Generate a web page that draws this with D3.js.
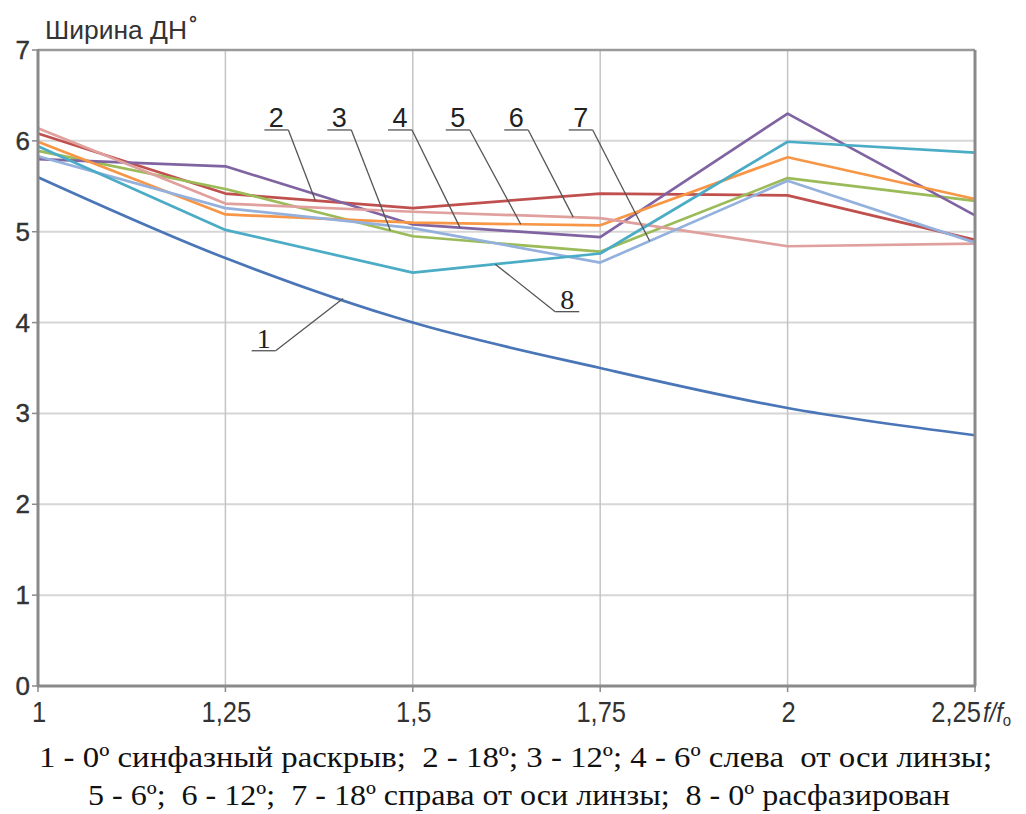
<!DOCTYPE html>
<html>
<head>
<meta charset="utf-8">
<script src="https://cdn.jsdelivr.net/npm/d3@7"></script>
<style>
  body { margin: 0; background: #fff; }
  svg { display: block; }
  .pre { white-space: pre; }
</style>
</head>
<body>
<svg id="chart" width="1026" height="814"></svg>
<script>
// Relative frequency f/f0 and tick labels
const freq = [1, 1.25, 1.5, 1.75, 2, 2.25];
const freqLabels = ["1", "1,25", "1,5", "1,75", "2", "2,25"];
const widthTicks = [0, 1, 2, 3, 4, 5, 6, 7];

// Beam width, degrees, per feed position
const w1 = [5.60, 4.71, 4.00, 3.50, 3.06, 2.76]; // 0° in-phase aperture
const w2 = [6.08, 5.42, 5.26, 5.42, 5.40, 4.91]; // 18° left
const w3 = [5.89, 5.47, 4.95, 4.78, 5.59, 5.34]; // 12° left
const w4 = [5.80, 5.72, 5.08, 4.94, 6.30, 5.18]; // 6° left
const w5 = [5.99, 5.19, 5.10, 5.07, 5.82, 5.36]; // 6° right
const w6 = [6.14, 5.31, 5.22, 5.15, 4.84, 4.87]; // 12° right
const w7 = [5.83, 5.26, 5.04, 4.66, 5.56, 4.88]; // 18° right
const w8 = [5.94, 5.02, 4.55, 4.76, 5.99, 5.87]; // 0° dephased

const seriesValues = [w1, w2, w3, w4, w5, w6, w7, w8];
const seriesColors = ["#4a76b8", "#c0504d", "#9bbb59", "#8064a2",
                      "#f79646", "#e0a09e", "#93b1dc", "#4bacc6"];
const seriesSmooth = [true, false, false, false, false, false, false, false];

// Numbered callouts: label, series index, x where the leader meets the line,
// underline centre (data units) and which underline end the leader leaves from
const callouts = [
  { label: "1", s: 0, at: 1.407, ux: 1.301, uy: 3.69, end: "right", serif: true },
  { label: "2", s: 1, at: 1.370, ux: 1.318, uy: 6.12, end: "right", serif: false },
  { label: "3", s: 2, at: 1.470, ux: 1.402, uy: 6.12, end: "right", serif: false },
  { label: "4", s: 3, at: 1.563, ux: 1.483, uy: 6.12, end: "right", serif: false },
  { label: "5", s: 4, at: 1.644, ux: 1.560, uy: 6.12, end: "right", serif: false },
  { label: "6", s: 5, at: 1.714, ux: 1.638, uy: 6.12, end: "right", serif: false },
  { label: "7", s: 6, at: 1.816, ux: 1.724, uy: 6.12, end: "right", serif: false },
  { label: "8", s: 7, at: 1.610, ux: 1.706, uy: 4.12, end: "left",  serif: true }
];

const captionLines = [
  "1 - 0º синфазный раскрыв;  2 - 18º; 3 - 12º; 4 - 6º слева  от оси линзы;",
  "5 - 6º;  6 - 12º;  7 - 18º справа от оси линзы;  8 - 0º расфазирован"
];

const svg = d3.select("#chart");
const x = d3.scaleLinear().domain([1, 2.25]).range([38, 975]);
const y = d3.scaleLinear().domain([0, 7]).range([686, 50]);

const sans = "'Liberation Sans', Arial, sans-serif";
const serif = "'Liberation Serif', 'Times New Roman', serif";

// Grid
svg.append("g").selectAll("line").data(widthTicks.slice(1, -1)).join("line")
  .attr("x1", x(1)).attr("x2", x(2.25))
  .attr("y1", d => y(d)).attr("y2", d => y(d))
  .attr("stroke", "#d6d6d6").attr("stroke-width", 2);
svg.append("g").selectAll("line").data(freq.slice(1, -1)).join("line")
  .attr("x1", d => x(d)).attr("x2", d => x(d))
  .attr("y1", y(0)).attr("y2", y(7))
  .attr("stroke", "#c4c4c4").attr("stroke-width", 1.5);

// Series lines
seriesValues.forEach((vals, i) => {
  const line = d3.line()
    .x((d, j) => x(freq[j]))
    .y(d => y(d))
    .curve(seriesSmooth[i] ? d3.curveMonotoneX : d3.curveLinear);
  svg.append("path").datum(vals)
    .attr("d", line)
    .attr("fill", "none")
    .attr("stroke", seriesColors[i])
    .attr("stroke-width", 2.7)
    .attr("stroke-linejoin", "round");
});

// Frame
svg.append("line").attr("x1", x(1)).attr("x2", x(2.25)).attr("y1", y(7)).attr("y2", y(7))
  .attr("stroke", "#9a9a9a").attr("stroke-width", 2.5);
svg.append("line").attr("x1", x(2.25)).attr("x2", x(2.25)).attr("y1", y(7)).attr("y2", y(0))
  .attr("stroke", "#8a8a8a").attr("stroke-width", 3);
svg.append("line").attr("x1", x(1)).attr("x2", x(1)).attr("y1", y(7) - 1).attr("y2", y(0) + 1)
  .attr("stroke", "#8a8a8a").attr("stroke-width", 3);
svg.append("line").attr("x1", x(1) - 1).attr("x2", x(2.25) + 1).attr("y1", y(0)).attr("y2", y(0))
  .attr("stroke", "#8a8a8a").attr("stroke-width", 3);

// Y axis ticks and labels
const yAxis = svg.append("g");
yAxis.selectAll("line").data(widthTicks).join("line")
  .attr("x1", x(1) - 6).attr("x2", x(1))
  .attr("y1", d => y(d)).attr("y2", d => y(d))
  .attr("stroke", "#8a8a8a").attr("stroke-width", 1.5);
yAxis.selectAll("text").data(widthTicks).join("text")
  .attr("x", x(1) - 8).attr("y", d => y(d) + 9)
  .attr("text-anchor", "end")
  .attr("font-family", sans).attr("font-size", 26).attr("fill", "#333")
  .attr("stroke", "#333").attr("stroke-width", 0.4)
  .text(d => d);

// X axis ticks and labels (condensed)
const xAxis = svg.append("g");
xAxis.selectAll("line").data(freq).join("line")
  .attr("x1", d => x(d)).attr("x2", d => x(d))
  .attr("y1", y(0)).attr("y2", y(0) + 6)
  .attr("stroke", "#8a8a8a").attr("stroke-width", 1.5);
const last = freq.length - 1;
xAxis.selectAll("text").data(freq).join("text")
  .attr("transform", (d, i) =>
    `translate(${i === last ? x(d) + 6 : x(d) + 1},${y(0) + 36}) scale(0.88,1)`)
  .attr("text-anchor", (d, i) => i === last ? "end" : "middle")
  .attr("font-family", sans).attr("font-size", 29).attr("fill", "#333")
  .text((d, i) => freqLabels[i]);
const unit = svg.append("text")
  .attr("transform", `translate(${x(2.25) + 8},${y(0) + 36}) scale(0.88,1)`)
  .attr("font-family", sans).attr("font-size", 27).attr("fill", "#333")
  .attr("font-style", "italic");
unit.append("tspan").text("f/f");
unit.append("tspan").attr("font-size", 17).attr("dy", 4).attr("font-style", "normal").text("o");

// Title
svg.append("text")
  .attr("x", 45).attr("y", 39)
  .attr("font-family", sans).attr("font-size", 25).attr("fill", "#333")
  .attr("textLength", 142).attr("lengthAdjust", "spacingAndGlyphs")
  .text("Ширина ДН");
svg.append("text")
  .attr("x", 189).attr("y", 30)
  .attr("font-family", sans).attr("font-size", 20).attr("font-weight", "bold").attr("fill", "#333")
  .text("°");

// Callouts with leaders
const half = 12;
callouts.forEach(c => {
  const interp = d3.scaleLinear().domain(freq).range(seriesValues[c.s]);
  const cx = x(c.ux), cy = y(c.uy);
  const ex = c.end === "right" ? cx + half : cx - half;
  const g = svg.append("g");
  g.append("line").attr("x1", cx - half).attr("x2", cx + half)
    .attr("y1", cy).attr("y2", cy)
    .attr("stroke", "#555").attr("stroke-width", 1.3);
  g.append("line").attr("x1", ex).attr("y1", cy)
    .attr("x2", x(c.at)).attr("y2", y(interp(c.at)))
    .attr("stroke", "#555").attr("stroke-width", 1.3);
  g.append("text").attr("x", cx).attr("y", cy - 3)
    .attr("text-anchor", "middle")
    .attr("font-family", c.serif ? serif : sans)
    .attr("font-size", c.serif ? 28 : 27)
    .attr("fill", "#222")
    .text(c.label);
});

// Caption
const capBase = [767, 805];
const capStart = [39, 88];
const capLen = [953, 862];
captionLines.forEach((t, i) => {
  svg.append("text").attr("class", "pre")
    .attr("x", capStart[i]).attr("y", capBase[i])
    .attr("font-family", serif).attr("font-size", 30).attr("fill", "#111")
    .attr("textLength", capLen[i]).attr("lengthAdjust", "spacingAndGlyphs")
    .text(t);
});
</script>
</body>
</html>
